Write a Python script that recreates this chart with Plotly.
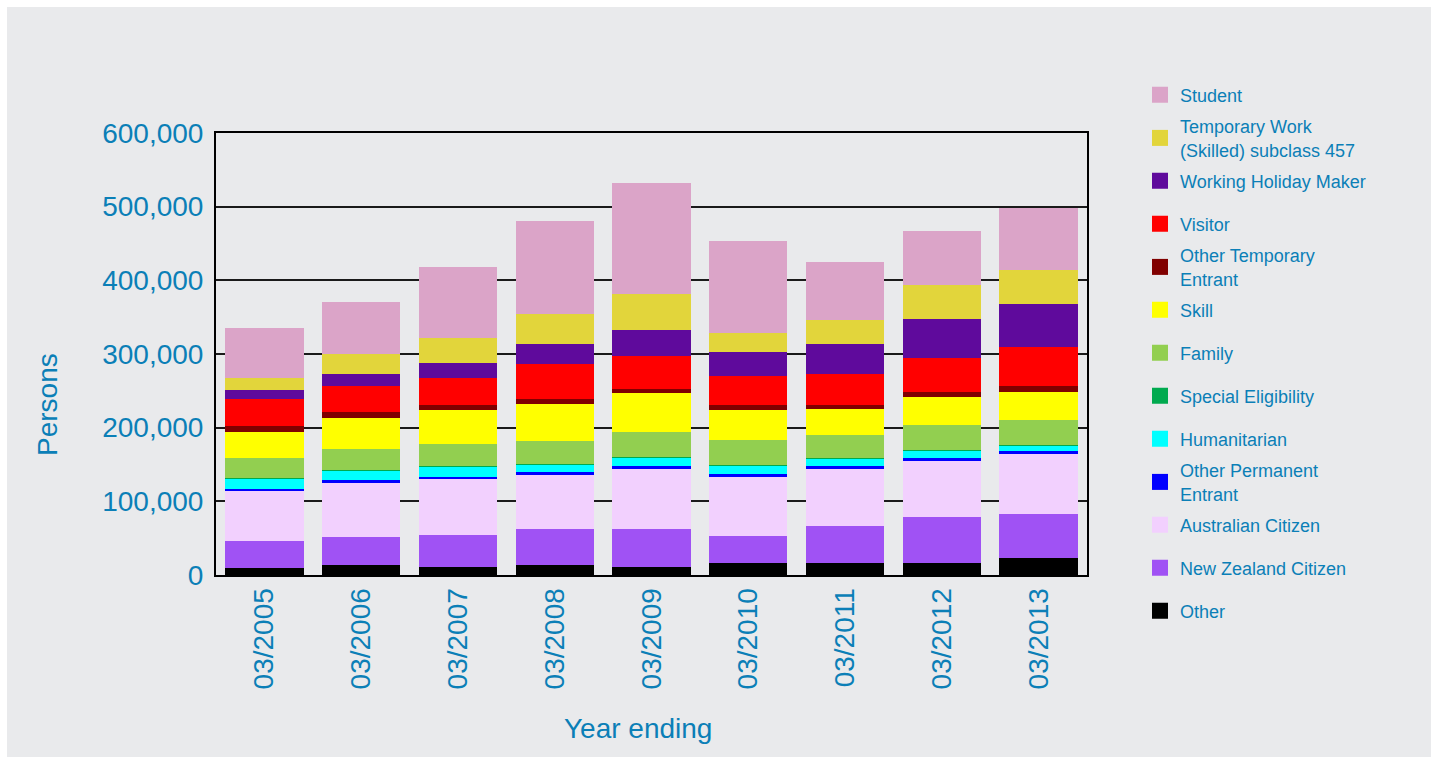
import plotly.graph_objects as go

years = ["03/2005", "03/2006", "03/2007", "03/2008", "03/2009",
         "03/2010", "03/2011", "03/2012", "03/2013"]

# values in persons (stack order bottom -> top)
other = [10000, 14000, 11300, 14000, 11300, 16700, 16700, 16700, 23500]
nz_citizen = [36600, 38000, 43500, 48900, 51600, 36700, 50300, 62500, 59800]
aus_citizen = [67900, 73300, 76000, 73300, 81400, 80100, 77300, 76000, 81400]
other_permanent = [2700, 4100, 2700, 4100, 4100, 4100, 4100, 4100, 4100]
humanitarian = [13600, 12700, 14000, 9900, 10900, 10900, 10000, 9500, 6800]
special_elig = [300, 300, 300, 300, 300, 300, 300, 300, 300]
family = [28200, 29100, 30500, 31900, 35000, 35000, 31800, 35000, 35000]
skill = [35300, 42100, 46100, 50200, 52900, 40700, 35300, 38000, 38000]
other_temp = [8100, 8100, 6800, 6800, 5400, 6800, 5400, 6800, 8100]
visitor = [36700, 35300, 36700, 47500, 44800, 39400, 42100, 46100, 53000]
whm = [12200, 16300, 20300, 27100, 35300, 32600, 40700, 53000, 58300]
tw457 = [16300, 26200, 34000, 40800, 48900, 25800, 32600, 46100, 46200]
student = [67800, 71500, 96400, 126200, 150700, 124800, 78700, 73300, 84100]

series = [
    ("Other", other, "#000000"),
    ("New Zealand Citizen", nz_citizen, "#A052F4"),
    ("Australian Citizen", aus_citizen, "#F2D0FE"),
    ("Other Permanent<br>Entrant", other_permanent, "#0000FF"),
    ("Humanitarian", humanitarian, "#00FFFF"),
    ("Special Eligibility", special_elig, "#00AA4F"),
    ("Family", family, "#92CF50"),
    ("Skill", skill, "#FFFF00"),
    ("Other Temporary<br>Entrant", other_temp, "#800000"),
    ("Visitor", visitor, "#FF0000"),
    ("Working Holiday Maker", whm, "#5F0A9C"),
    ("Temporary Work<br>(Skilled) subclass 457", tw457, "#E2D53B"),
    ("Student", student, "#DBA4C8"),
]

BLUE = "#0B7FB7"
BG = "#E9EAEC"
FONT = "Arial, Liberation Sans, sans-serif"

# figure placed at (7,7) in the page, running off the right/bottom edges
W, H = 1424, 750
L, R, T, B = 209, 1424 - 1080, 126, 750 - 568
pw, ph = W - L - R, H - T - B

fig = go.Figure()
# stacked bars (bottom -> top)
for name, vals, col in series:
    fig.add_trace(go.Bar(x=years, y=vals, name=name.replace("<br>", " "),
                         marker_color=col, marker_line_width=0,
                         showlegend=False))

# legend entries (top -> bottom), one legend per entry for even spacing
legend_layouts = {}
for i, (name, vals, col) in enumerate(reversed(series)):
    key = "legend" if i == 0 else f"legend{i + 1}"
    fig.add_trace(go.Scatter(x=[None], y=[None], mode="markers", name=name,
                             marker=dict(symbol="square", size=16, color=col,
                                         line=dict(width=0)),
                             legend=key, hoverinfo="skip"))
    yc = 88 + 43 * i
    legend_layouts[key] = dict(
        x=(1133 - L) / pw, xanchor="left",
        y=(568 - yc) / ph, yanchor="middle",
        font=dict(size=18, color=BLUE, family=FONT),
        bgcolor="rgba(0,0,0,0)",
    )

fig.update_layout(
    width=W, height=H,
    barmode="stack", bargap=0.19,
    paper_bgcolor=BG, plot_bgcolor=BG,
    margin=dict(l=L, r=R, t=T, b=B, autoexpand=False),
    font=dict(family=FONT, color=BLUE),
    xaxis=dict(
        tickangle=-90, tickfont=dict(size=28, color=BLUE),
        showline=True, linecolor="black", linewidth=2, mirror=True,
        ticklabelstandoff=0, automargin=False,
    ),
    yaxis=dict(
        range=[0, 600000], dtick=100000, tickformat=",",
        tickfont=dict(size=28, color=BLUE),
        showgrid=True, gridcolor="#1a1a1a", gridwidth=1.5,
        showline=True, linecolor="black", linewidth=2, mirror=True,
        zeroline=False, ticklabelstandoff=5, automargin=False,
    ),
    annotations=[
        dict(text="Persons", textangle=-90, showarrow=False,
             xref="paper", yref="paper", x=(40 - L) / pw, y=(568 - 398) / ph,
             xanchor="center", yanchor="middle",
             font=dict(size=28, color=BLUE, family=FONT)),
        dict(text="Year ending", showarrow=False,
             xref="paper", yref="paper", x=(631 - L) / pw, y=(568 - 721) / ph,
             xanchor="center", yanchor="middle",
             font=dict(size=28, color=BLUE, family=FONT)),
    ],
)
fig.update_layout(**legend_layouts)

fig.write_html(
    "out.html",
    post_script=(
        "document.documentElement.style.overflow='hidden';"
        "document.body.style.overflow='hidden';"
        "document.body.style.margin='7px 0 0 7px';"
    ),
)
